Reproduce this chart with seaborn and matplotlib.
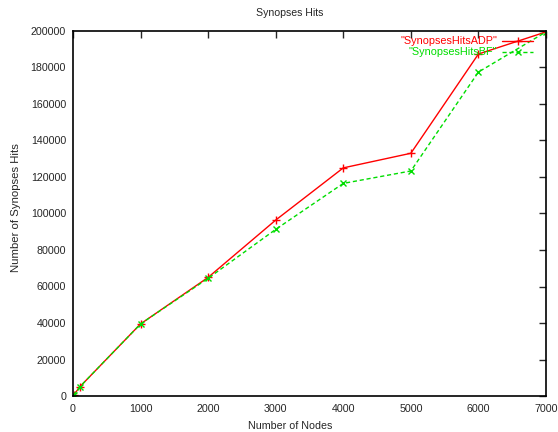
import matplotlib
matplotlib.use("Agg")
import matplotlib.pyplot as plt
import seaborn as sns
import pandas as pd

nodes = [10, 100, 1000, 2000, 3000, 4000, 5000, 6000, 7000]
hits_adp = [500, 5000, 39500, 65000, 96400, 125000, 133000, 187400, 199500]
hits_bf = [500, 5000, 39500, 64500, 91300, 116500, 123300, 177500, 199500]
x_ticks = [0, 1000, 2000, 3000, 4000, 5000, 6000, 7000]
y_ticks = list(range(0, 200001, 20000))

sns.set_style("white")
plt.rcParams['font.family'] = ['Liberation Sans', 'DejaVu Sans']

df_adp = pd.DataFrame({"nodes": nodes, "hits": hits_adp})
df_bf = pd.DataFrame({"nodes": nodes, "hits": hits_bf})

fig = plt.figure(figsize=(5.58, 4.32), dpi=100)
ax = fig.add_axes([73/558, 1-396/432, (546-73)/558, (396-31)/432])

sns.lineplot(data=df_adp, x="nodes", y="hits", ax=ax, color="#ff0000",
             linewidth=1, marker="+", markersize=6, markeredgewidth=1,
             markeredgecolor="#ff0000", label='"SynopsesHitsADP"')
sns.lineplot(data=df_bf, x="nodes", y="hits", ax=ax, color="#00dd00",
             linewidth=1, linestyle=(0, (3, 2)), marker="x", markersize=5,
             markeredgewidth=1, markeredgecolor="#00dd00",
             label='"SynopsesHitsBF"')

ax.set_xlim(0, 7000)
ax.set_ylim(0, 200000)
ax.set_xticks(x_ticks)
ax.set_yticks(y_ticks)
ax.tick_params(direction="in", length=5, width=1, labelsize=7.7, top=True, right=True,
               labeltop=False, labelright=False)
ax.tick_params(axis="x", pad=6)
ax.tick_params(axis="y", pad=5)
for s in ax.spines.values():
    s.set_linewidth(1.2)
    s.set_color("black")
ax.set_title("Synopses Hits", fontsize=7.6, pad=11, x=0.459)
ax.set_xlabel("Number of Nodes", fontsize=7.7, labelpad=5, x=0.459)
ax.set_ylabel("Number of Synopses Hits", fontsize=8.2, labelpad=7, y=0.515)

leg = ax.legend(loc="upper right", frameon=False, markerfirst=False, fontsize=7.8,
                labelcolor="linecolor", handlelength=2.85,
                bbox_to_anchor=(1 - 13/473, 1 - 5.5/365), borderaxespad=0,
                borderpad=0.0, labelspacing=0.08, handletextpad=0.45)

fig.savefig("out.png", dpi=100)
